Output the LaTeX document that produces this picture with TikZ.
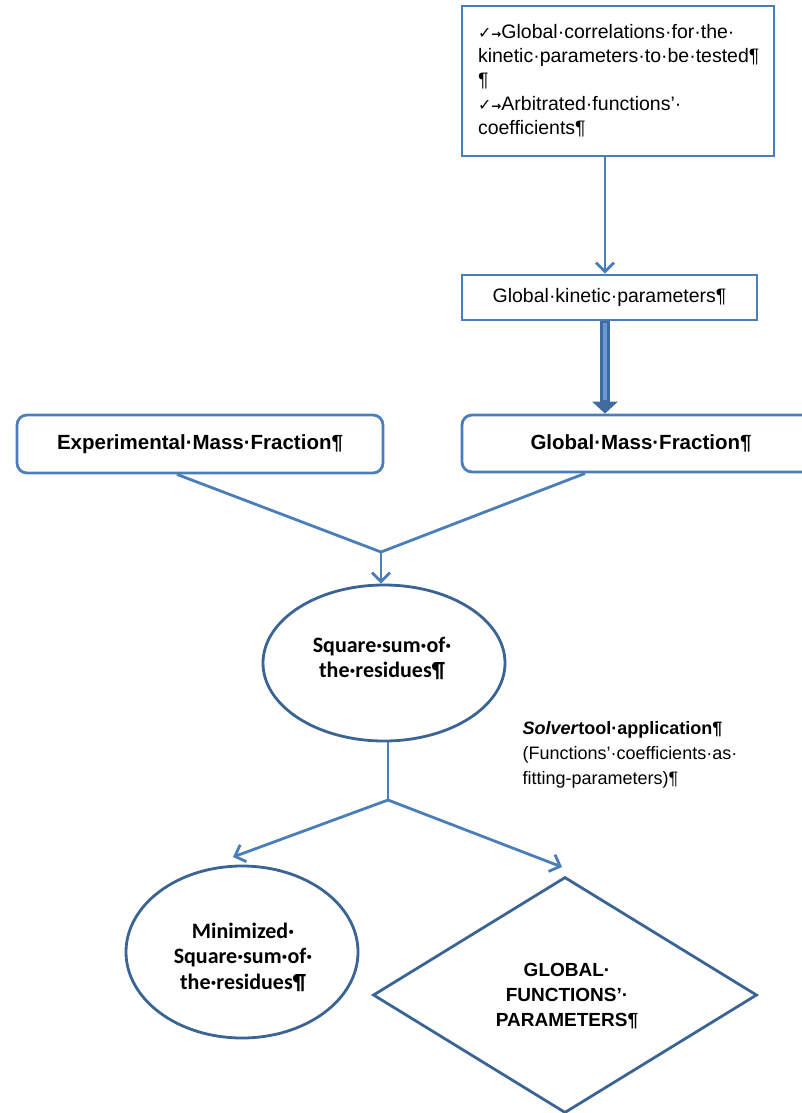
\documentclass[tikz,border=0pt]{standalone}
\usepackage{fontspec}
\setmainfont{Liberation Sans}
\newfontfamily\calibfont{Carlito}
\newfontfamily\symfont{DejaVu Sans}
\usetikzlibrary{arrows.meta,shapes.geometric}

\definecolor{linkblue}{HTML}{4A7EBB}
\definecolor{edgeblue}{HTML}{3A6494}
\definecolor{shaftdark}{HTML}{3F6B9E}
\definecolor{shaftlight}{HTML}{6A98D2}

\newcommand{\chk}{{\symfont\fontsize{16}{16}\selectfont ✓}{\symfont\bfseries\fontsize{12}{12}\selectfont →}}

\tikzset{
  every node/.style={font=\fontsize{19.5}{24}\selectfont},
  plainbox/.style={draw=linkblue, line width=2.8pt, inner sep=0pt},
  roundbox/.style={plainbox, rounded corners=10pt},
  oval/.style={ellipse, draw=edgeblue, line width=2.8pt, inner sep=0pt},
  rhombus/.style={diamond, draw=edgeblue, line width=2.8pt, inner sep=0pt},
  link/.style={draw=linkblue, line width=2.8pt},
  linkarrow/.style={link, -{Straight Barb[length=9pt,width=18pt]}},
}

\begin{document}
\begin{tikzpicture}[x=1pt, y=-1pt]
\useasboundingbox (0,0) rectangle (802,1113);

% input box with the tested correlations
\node[plainbox, minimum width=312pt, minimum height=150pt, text width=280pt,
      align=left, inner xsep=16pt] (inputs) at (618,81)
  {\chk Global·correlations·for·the·\\
   kinetic·parameters·to·be·tested¶\\
   ¶\\
   \chk Arbitrated·functions’·\\
   coefficients¶};

\node[plainbox, minimum width=295pt, minimum height=45pt] (kinetic) at (609.5,297.5)
  {Global·kinetic·parameters¶};

\node[roundbox, minimum width=366pt, minimum height=58pt] (exp) at (200,444)
  {\bfseries\fontsize{20.5}{24}\selectfont Experimental·Mass·Fraction¶};

\node[roundbox, minimum width=358pt, minimum height=57pt] (gmf) at (641,443.5)
  {\bfseries\fontsize{20.5}{24}\selectfont Global·Mass·Fraction¶};

\node[oval, minimum width=242pt, minimum height=156pt] (resid) at (384,663) {};
\node[align=center, font=\calibfont\bfseries\fontsize{22}{25}\selectfont] (residtext) at (382,658)
  {Square·sum·of·\\the·residues¶};

\node[align=left, anchor=west, font=\fontsize{18}{25}\selectfont] (solver) at (519,755)
  {\textbf{\textit{Solver}tool·application¶}\\
   (Functions’·coefficients·as·\\
   fitting-parameters)¶};

\node[oval, minimum width=232pt, minimum height=172pt] (minres) at (242,952) {};
\node[align=center, font=\calibfont\bfseries\fontsize{22}{25.5}\selectfont] (minrestext) at (243,957)
  {Minimized·\\Square·sum·of·\\the·residues¶};

\node[rhombus, minimum width=384pt, minimum height=236pt] (gfp) at (565,995) {};
\node[align=center, font=\bfseries\fontsize{19}{25}\selectfont] (gfptext) at (567,996)
  {GLOBAL·\\FUNCTIONS’·\\PARAMETERS¶};

% junction points of the merging and splitting connectors
\coordinate (merge) at (381,552);
\coordinate (split) at (388,800);

% connectors
\draw[linkarrow] ([xshift=-13pt]inputs.south) -- ([xshift=-4.5pt]kinetic.north);

\draw[draw=shaftdark, line width=10pt, -{Triangle[length=12pt,width=25pt]}]
  ([xshift=-4.5pt]kinetic.south) -- ([xshift=-36pt]gmf.north);
\draw[draw=shaftlight, line width=3.5pt, shorten >=14pt, shorten <=1.5pt]
  ([xshift=-4.5pt]kinetic.south) -- ([xshift=-36pt]gmf.north);

\draw[link] ([xshift=-23pt]exp.south) -- (merge);
\draw[link] ([xshift=-56pt]gmf.south) -- (merge);
\draw[linkarrow] (merge) -- (merge |- resid.north);

\draw[link] ([xshift=4pt]resid.south) -- (split);
\draw[linkarrow] (split) -- (233,857) coordinate (minarrow);
\draw[linkarrow] (split) -- (562,867) coordinate (gfparrow);
\end{tikzpicture}
\end{document}
